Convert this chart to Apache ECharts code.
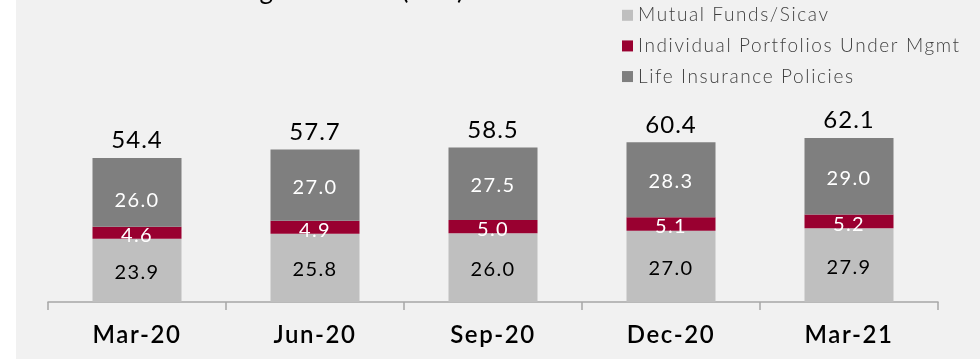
<!DOCTYPE html>
<html>
<head>
<meta charset="utf-8">
<script src="https://cdn.jsdelivr.net/npm/echarts@6/dist/echarts.min.js"></script>
<style>
  html, body { margin: 0; padding: 0; background: #ffffff; }
  #chart { width: 980px; height: 359px; }
</style>
</head>
<body>
<div id="chart"></div>
<script>
// Quarterly managed assets, € billions
const categories = ['Mar-20', 'Jun-20', 'Sep-20', 'Dec-20', 'Mar-21'];
const mutualFunds = [23.9, 25.8, 26.0, 27.0, 27.9];
const portfolios = [4.6, 4.9, 5.0, 5.1, 5.2];
const lifeInsurance = [26.0, 27.0, 27.5, 28.3, 29.0];
const totals = [54.4, 57.7, 58.5, 60.4, 62.1];
const seriesNames = ['Mutual Funds/Sicav', 'Individual Portfolios Under Mgmt', 'Life Insurance Policies'];

const FONT = 'Lato, "Open Sans", sans-serif';

// Slightly tracked-out typography: apply letter spacing (in em) to every
// canvas text draw and measurement so layout widths stay consistent.
(function () {
  const P = CanvasRenderingContext2D.prototype;
  const fill = P.fillText, measure = P.measureText;
  function track(ctx) {
    const m = /(\d+(?:\.\d+)?)px/.exec(ctx.font);
    const size = m ? parseFloat(m[1]) : 12;
    let em;
    if (/bold|[6-9]00/.test(ctx.font)) em = 0.065;
    else if (/300/.test(ctx.font)) em = 0.085;
    else em = size >= 22 ? 0.045 : 0.07;
    ctx.letterSpacing = (size * em).toFixed(2) + 'px';
  }
  P.fillText = function () { track(this); return fill.apply(this, arguments); };
  P.measureText = function (t) { track(this); return measure.call(this, t); };
})();

const chart = echarts.init(document.getElementById('chart'), null, { renderer: 'canvas' });

function segLabel(color) {
  return {
    show: true,
    position: 'inside',
    color: color,
    fontFamily: FONT,
    fontSize: 20,
    offset: [0, 2],
    formatter: p => p.value.toFixed(1)
  };
}

// first dark segment label sits a little lower in its block
const lifeData = lifeInsurance.map((v, i) =>
  i === 0 ? { value: v, label: { offset: [0, 8] } } : v);

chart.setOption({
  backgroundColor: '#f1f1f1',
  animation: false,
  graphic: [
    { type: 'rect', left: 0, top: 0, shape: { width: 16, height: 359 }, style: { fill: '#ffffff' }, silent: true },
    {
      type: 'text', x: 465, y: 4,
      style: {
        text: 'Managed Assets (€bn)', align: 'right', verticalAlign: 'bottom',
        fill: '#000000', font: '26px ' + FONT
      }
    }
  ],
  legend: {
    data: seriesNames,
    orient: 'vertical',
    left: 617,
    top: 0,
    itemWidth: 11,
    itemHeight: 11,
    itemGap: 10,
    icon: 'rect',
    textStyle: { color: '#404040', fontFamily: FONT, fontSize: 19, fontWeight: 300 }
  },
  grid: { left: 48, right: 42, top: 117, bottom: 57 },
  xAxis: {
    type: 'category',
    data: categories,
    axisLine: { lineStyle: { color: '#a6a6a6', width: 1.5 } },
    axisTick: { show: true, length: 8, lineStyle: { color: '#a6a6a6', width: 1.5 } },
    axisLabel: { color: '#000000', fontFamily: FONT, fontSize: 24, fontWeight: 600, margin: 20 }
  },
  yAxis: {
    type: 'value', min: 0, max: 70, show: false,
    splitLine: { show: false }
  },
  series: [
    {
      name: seriesNames[0], type: 'bar', stack: 'aum', barWidth: '50%',
      data: mutualFunds, itemStyle: { color: '#bfbfbf' },
      label: segLabel('#000000')
    },
    {
      name: seriesNames[1], type: 'bar', stack: 'aum',
      data: portfolios, itemStyle: { color: '#990030' },
      label: Object.assign(segLabel('#ffffff'), { offset: [0, 3] })
    },
    {
      name: seriesNames[2], type: 'bar', stack: 'aum',
      data: lifeData, itemStyle: { color: '#7f7f7f' },
      label: segLabel('#ffffff')
    },
    {
      name: 'Total', type: 'bar', stack: 'aum',
      data: totals.map(() => 0),
      itemStyle: { color: 'transparent' },
      label: {
        show: true, position: 'top', distance: 5,
        color: '#000000', fontFamily: FONT, fontSize: 24,
        formatter: p => totals[p.dataIndex].toFixed(1)
      }
    }
  ]
});
</script>
</body>
</html>
